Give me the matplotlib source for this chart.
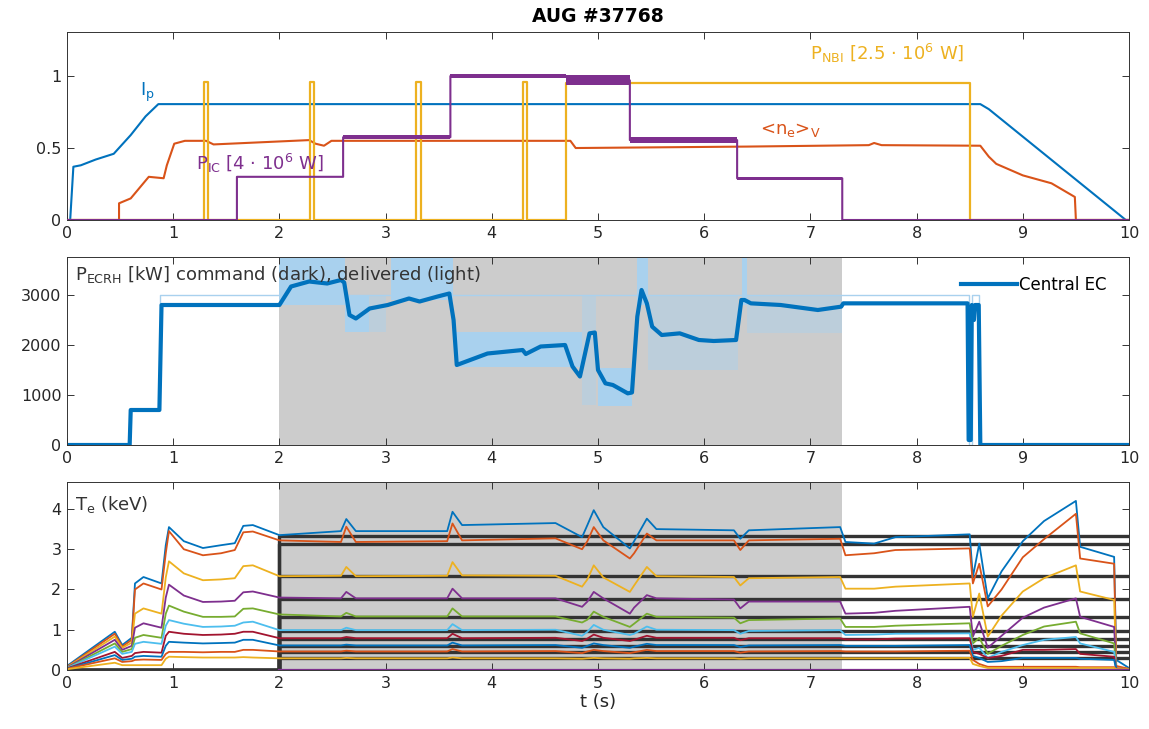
import matplotlib
matplotlib.use('Agg')
import matplotlib.pyplot as plt

# MATLAB default line colours
C_BLUE = '#0072BD'
C_ORANGE = '#D95319'
C_YELLOW = '#EDB120'
C_PURPLE = '#7E2F8E'
C_GREEN = '#77AC30'
C_LBLUE = '#4DBEEE'
C_RED = '#A2142F'
C_SHADE = '#cccccc'
C_DELIV = '#a9d1ee'
C_TEXT = '#262626'

# ---------------------------------------------------------------- top panel
IP_T = [0, 0.03, 0.06, 0.13, 0.27, 0.44, 0.60, 0.74, 0.86, 8.6, 8.68, 9.97, 10]
IP_V = [0, 0, 0.37, 0.38, 0.42, 0.46, 0.59, 0.72, 0.805, 0.805, 0.77, 0.0, 0.0]

NE_T = [0, 0.49, 0.49, 0.60, 0.77, 0.91, 0.94, 1.01, 1.11, 1.31, 1.38, 2.28,
        2.34, 2.42, 2.49, 4.74, 4.79, 6.4, 7.55, 7.6, 7.67, 8.6, 8.68, 8.75,
        9.0, 9.27, 9.49, 9.5, 10]
NE_V = [0, 0, 0.116, 0.15, 0.30, 0.29, 0.38, 0.53, 0.55, 0.55, 0.525, 0.555,
        0.53, 0.516, 0.55, 0.55, 0.50, 0.51, 0.52, 0.535, 0.52, 0.516, 0.44,
        0.39, 0.31, 0.255, 0.16, 0, 0]

IC_T = [0, 1.6, 1.6, 2.6, 2.6, 3.61, 3.61, 4.7, 5.3, 5.3, 6.31, 6.31, 7.3,
        7.3, 10]
IC_V = [0, 0, 0.30, 0.30, 0.575, 0.575, 1.0, 1.0, 0.97, 0.555, 0.555, 0.29,
        0.29, 0, 0]
# noisy plateaus of the ICRF trace: start, end, low, high
IC_BAND_T0 = [2.6, 3.61, 4.7, 5.3, 6.31]
IC_BAND_T1 = [3.61, 4.7, 5.3, 6.31, 7.3]
IC_BAND_LO = [0.565, 0.985, 0.935, 0.535, 0.28]
IC_BAND_HI = [0.59, 1.015, 1.005, 0.575, 0.30]

NBI_T = [0, 1.29, 1.29, 1.33, 1.33, 2.29, 2.29, 2.33, 2.33, 3.29, 3.29, 3.33,
         3.33, 4.29, 4.29, 4.33, 4.33, 4.70, 4.70, 8.50, 8.50, 10]
NBI_V = [0, 0, 0.96, 0.96, 0, 0, 0.96, 0.96, 0, 0, 0.96, 0.96,
         0, 0, 0.96, 0.96, 0, 0, 0.955, 0.955, 0, 0]

# ---------------------------------------------------------------- ECRH panel
ECRH_T = [0, 0.59, 0.60, 0.87, 0.89, 2.0, 2.11, 2.28, 2.45, 2.58, 2.61, 2.66,
          2.72, 2.85, 3.02, 3.22, 3.32, 3.49, 3.60, 3.64, 3.67, 3.96, 4.29,
          4.32, 4.46, 4.69, 4.76, 4.83, 4.92, 4.97, 5.0, 5.07, 5.14, 5.28,
          5.32, 5.37, 5.41, 5.46, 5.51, 5.6, 5.77, 5.95, 6.09, 6.3, 6.35,
          6.38, 6.44, 6.72, 7.07, 7.29, 7.31, 8.48, 8.49, 8.51, 8.52, 8.54,
          8.55, 8.585, 8.6, 10]
ECRH_V = [0, 0, 700, 700, 2800, 2800, 3170, 3270, 3230, 3300, 3250, 2600,
          2530, 2730, 2800, 2930, 2870, 2970, 3030, 2500, 1600, 1830, 1900,
          1820, 1970, 2000, 1570, 1370, 2233, 2250, 1500, 1233, 1200, 1033,
          1050, 2567, 3100, 2833, 2367, 2200, 2233, 2100, 2080, 2100, 2900,
          2900, 2833, 2800, 2700, 2767, 2833, 2833, 100, 100, 2800, 2500,
          2800, 2800, 0, 0]

# delivered power envelope (thin) and its noisy ranges
DLV_T = [0.88, 0.88, 8.49, 8.49, 8.52, 8.52, 8.59, 8.59]
DLV_V = [2800, 3000, 3000, 0, 0, 3000, 3000, 0]
DLV_DENSE_T0 = [2.0, 2.62, 3.05, 3.65, 5.0, 5.37, 6.36]
DLV_DENSE_T1 = [2.62, 2.84, 3.63, 4.85, 5.32, 5.47, 6.40]
DLV_DENSE_LO = [2800, 2270, 2900, 1550, 770, 2800, 2800]
DLV_DENSE_HI = [3760, 3000, 3760, 2270, 1530, 3760, 3760]
DLV_SPARSE_T0 = [2.84, 4.85, 5.47, 6.40]
DLV_SPARSE_T1 = [3.0, 4.98, 6.32, 7.30]
DLV_SPARSE_LO = [2270, 800, 1500, 2250]
DLV_SPARSE_HI = [3000, 3000, 3000, 3000]

SHADE_T = [2.0, 7.3]

# ---------------------------------------------------------------- Te panel
TE_T = [0.0, 0.45, 0.52, 0.61, 0.64, 0.72, 0.89, 0.93, 0.96, 1.10, 1.28, 1.45,
        1.58, 1.66, 1.75, 2.0, 2.58, 2.63, 2.72, 3.58, 3.63, 3.72, 4.6, 4.85,
        4.9, 4.96, 5.05, 5.3, 5.34, 5.46, 5.55, 6.28, 6.34, 6.42, 7.28, 7.33,
        7.6, 7.8, 8.5, 8.53, 8.59, 8.67, 8.8, 9.0, 9.2, 9.5, 9.54, 9.86,
        9.88, 10.0]
TE_1 = [0.1, 0.95, 0.62, 0.8, 2.15, 2.31, 2.15, 3.1, 3.55, 3.2, 3.03, 3.1,
        3.15, 3.58, 3.6, 3.35, 3.45, 3.75, 3.45, 3.45, 3.93, 3.6, 3.65, 3.3,
        3.6, 3.97, 3.55, 3.02, 3.2, 3.76, 3.5, 3.47, 3.26, 3.47, 3.55, 3.18,
        3.14, 3.3, 3.37, 2.31, 3.14, 1.78, 2.45, 3.2, 3.7, 4.2, 3.06, 2.81,
        0.25, 0.05]
TE_2 = [0.08, 0.9, 0.58, 0.75, 2.0, 2.15, 2.0, 2.9, 3.45, 3.0, 2.85, 2.9,
        2.98, 3.42, 3.44, 3.22, 3.18, 3.56, 3.18, 3.2, 3.64, 3.22, 3.27, 3.0,
        3.2, 3.55, 3.22, 2.77, 2.9, 3.39, 3.22, 3.22, 2.98, 3.22, 3.26, 2.85,
        2.9, 2.98, 3.02, 2.15, 2.64, 1.58, 2.0, 2.8, 3.25, 3.88, 2.77, 2.64,
        0.1, 0.03]
TE_3 = [0.07, 0.83, 0.55, 0.68, 1.4, 1.53, 1.4, 2.3, 2.7, 2.4, 2.23, 2.25,
        2.28, 2.58, 2.6, 2.33, 2.34, 2.56, 2.33, 2.34, 2.68, 2.35, 2.34, 2.07,
        2.25, 2.6, 2.3, 1.94, 2.1, 2.56, 2.33, 2.31, 2.1, 2.28, 2.31, 2.02,
        2.02, 2.07, 2.15, 1.32, 1.9, 0.83, 1.35, 1.95, 2.28, 2.6, 1.95, 1.74,
        0.05, 0.02]
TE_4 = [0.06, 0.75, 0.5, 0.6, 1.05, 1.16, 1.05, 1.8, 2.12, 1.85, 1.69, 1.7,
        1.72, 1.93, 1.95, 1.8, 1.78, 1.94, 1.78, 1.78, 2.02, 1.78, 1.78, 1.57,
        1.7, 1.94, 1.78, 1.4, 1.55, 1.86, 1.78, 1.75, 1.53, 1.7, 1.7, 1.4,
        1.42, 1.47, 1.57, 0.83, 1.2, 0.55, 0.85, 1.3, 1.55, 1.78, 1.32, 1.07,
        0.04, 0.02]
TE_5 = [0.05, 0.66, 0.45, 0.52, 0.8, 0.87, 0.8, 1.4, 1.6, 1.45, 1.32, 1.32,
        1.33, 1.52, 1.53, 1.38, 1.33, 1.42, 1.33, 1.33, 1.53, 1.33, 1.33, 1.18,
        1.25, 1.45, 1.32, 1.07, 1.15, 1.4, 1.32, 1.3, 1.16, 1.24, 1.28, 1.07,
        1.07, 1.1, 1.16, 0.66, 0.8, 0.4, 0.6, 0.87, 1.08, 1.2, 0.91, 0.66,
        0.03, 0.02]
TE_6 = [0.05, 0.58, 0.4, 0.45, 0.65, 0.7, 0.65, 1.1, 1.24, 1.15, 1.07, 1.08,
        1.1, 1.18, 1.2, 0.99, 0.99, 1.05, 0.99, 0.99, 1.14, 0.99, 1.0, 0.85,
        0.95, 1.12, 1.0, 0.87, 0.9, 1.08, 1.0, 0.99, 0.9, 0.97, 0.99, 0.87,
        0.88, 0.9, 0.91, 0.5, 0.55, 0.3, 0.45, 0.62, 0.75, 0.82, 0.66, 0.45,
        0.02, 0.02]
TE_7 = [0.04, 0.45, 0.3, 0.35, 0.42, 0.45, 0.43, 0.85, 0.95, 0.9, 0.87, 0.88,
        0.9, 0.95, 0.95, 0.79, 0.79, 0.82, 0.79, 0.79, 0.9, 0.79, 0.8, 0.72,
        0.78, 0.88, 0.8, 0.72, 0.75, 0.85, 0.8, 0.8, 0.74, 0.79, 0.79, 0.76,
        0.76, 0.78, 0.79, 0.45, 0.4, 0.3, 0.35, 0.5, 0.5, 0.52, 0.4, 0.33,
        0.02, 0.02]
TE_8 = [0.03, 0.37, 0.25, 0.28, 0.33, 0.35, 0.33, 0.6, 0.7, 0.68, 0.66, 0.67,
        0.68, 0.75, 0.75, 0.61, 0.61, 0.63, 0.61, 0.61, 0.68, 0.61, 0.62, 0.55,
        0.6, 0.66, 0.62, 0.55, 0.58, 0.65, 0.62, 0.62, 0.57, 0.61, 0.62, 0.6,
        0.6, 0.6, 0.62, 0.35, 0.3, 0.2, 0.22, 0.3, 0.3, 0.3, 0.28, 0.25,
        0.02, 0.02]
TE_9 = [0.03, 0.29, 0.2, 0.22, 0.25, 0.26, 0.25, 0.4, 0.45, 0.45, 0.44, 0.45,
        0.45, 0.5, 0.5, 0.46, 0.46, 0.48, 0.46, 0.46, 0.52, 0.46, 0.47, 0.42,
        0.46, 0.5, 0.47, 0.42, 0.44, 0.5, 0.47, 0.47, 0.43, 0.46, 0.47, 0.46,
        0.46, 0.46, 0.48, 0.25, 0.15, 0.08, 0.08, 0.08, 0.08, 0.08, 0.07, 0.07,
        0.02, 0.02]
TE_10 = [0.02, 0.18, 0.12, 0.12, 0.12, 0.12, 0.12, 0.28, 0.33, 0.32, 0.31,
         0.31, 0.31, 0.32, 0.31, 0.29, 0.29, 0.3, 0.29, 0.29, 0.31, 0.29, 0.29,
         0.28, 0.29, 0.3, 0.29, 0.28, 0.29, 0.3, 0.29, 0.29, 0.28, 0.29, 0.29,
         0.29, 0.29, 0.29, 0.3, 0.15, 0.1, 0.05, 0.05, 0.05, 0.05, 0.05, 0.05,
         0.05, 0.02, 0.02]
TE_CHANNELS = [TE_1, TE_2, TE_3, TE_4, TE_5, TE_6, TE_7, TE_8, TE_9, TE_10]
TE_COLORS = [C_BLUE, C_ORANGE, C_YELLOW, C_PURPLE, C_GREEN, C_LBLUE, C_RED,
             C_BLUE, C_ORANGE, C_YELLOW]

# reference levels (black) switched on at t = 2 s
TE_REF_T = [0, 2.0, 2.0, 10]
TE_REF_LEVELS = [3.33, 3.12, 2.33, 1.77, 1.31, 0.98, 0.78, 0.60, 0.45, 0.30]
TE_ZERO_T = [2.0, 10]
TE_ZERO_V = [0, 0]


def style_axes(ax, ylim, yticks):
    ax.set_xlim(0, 10)
    ax.set_ylim(*ylim)
    ax.set_xticks(range(0, 11))
    ax.set_yticks(yticks)
    ax.set_yticklabels([('%g' % v) for v in yticks])
    ax.tick_params(direction='in', top=True, right=True, length=5, width=0.7,
                   labelsize=11.5, colors='#333333', labelcolor=C_TEXT, pad=4)
    for sp in ax.spines.values():
        sp.set_color('#333333')
        sp.set_linewidth(0.7)


fig = plt.figure(figsize=(11.49, 7.29), dpi=100)
left, width, height = 67 / 1149, 1062 / 1149, 188 / 729
ax1 = fig.add_axes([left, 1 - 220 / 729, width, height])
ax2 = fig.add_axes([left, 1 - 445 / 729, width, height])
ax3 = fig.add_axes([left, 1 - 670 / 729, width, height])

# --- top
ax1.plot(IP_T, IP_V, color=C_BLUE, lw=1.5)
ax1.plot(NE_T, NE_V, color=C_ORANGE, lw=1.5)
ax1.plot(NBI_T, NBI_V, color=C_YELLOW, lw=1.6)
for t0, t1, lo, hi in zip(IC_BAND_T0, IC_BAND_T1, IC_BAND_LO, IC_BAND_HI):
    ax1.fill_between([t0, t1], lo, hi, color=C_PURPLE, lw=0, zorder=2.5)
ax1.plot(IC_T, IC_V, color=C_PURPLE, lw=1.5, zorder=2.6)
style_axes(ax1, (0, 1.306), [0, 0.5, 1])

ax1.text(0.69, 0.86, r'I$_{\rm p}$', color=C_BLUE, fontsize=13)
ax1.text(1.21, 0.35, r'P$_{\rm IC}$ [4 $\cdot$ 10$^{6}$ W]', color=C_PURPLE,
         fontsize=13)
ax1.text(6.53, 0.6, r'<n$_{\rm e}$>$_{\rm V}$', color=C_ORANGE, fontsize=13)
ax1.text(7.0, 1.11, r'P$_{\rm NBI}$ [2.5 $\cdot$ 10$^{6}$ W]', color=C_YELLOW,
         fontsize=13)
fig.text(598 / 1149, 1 - 16 / 729, 'AUG #37768', ha='center', va='center',
         fontsize=13.5, fontweight='bold', color='black')

# --- ECRH
ax2.axvspan(SHADE_T[0], SHADE_T[1], color=C_SHADE, lw=0)
for t0, t1, lo, hi in zip(DLV_DENSE_T0, DLV_DENSE_T1, DLV_DENSE_LO, DLV_DENSE_HI):
    ax2.fill_between([t0, t1], lo, hi, color=C_DELIV, lw=0)
for t0, t1, lo, hi in zip(DLV_SPARSE_T0, DLV_SPARSE_T1, DLV_SPARSE_LO, DLV_SPARSE_HI):
    ax2.fill_between([t0, t1], lo, hi, color=C_DELIV, alpha=0.45, lw=0)
ax2.plot(DLV_T, DLV_V, color=C_DELIV, lw=1)
ax2.plot(ECRH_T, ECRH_V, color=C_BLUE, lw=3, label='Central EC')
style_axes(ax2, (0, 3760), [0, 1000, 2000, 3000])
ax2.text(0.08, 3290, r'P$_{\rm ECRH}$ [kW] command (dark), delivered (light)',
         color='#333333', fontsize=13)
ax2.legend(loc='upper right', bbox_to_anchor=(0.985, 0.935), frameon=False,
           fontsize=12, handlelength=3.4, handletextpad=0.1, borderaxespad=0)

# --- Te
ax3.axvspan(SHADE_T[0], SHADE_T[1], color=C_SHADE, lw=0)
for lev in TE_REF_LEVELS:
    ax3.plot(TE_REF_T, [0, 0, lev, lev], color='#333333', lw=2.4)
for vals, col in zip(TE_CHANNELS, TE_COLORS):
    ax3.plot(TE_T, vals, color=col, lw=1.3)
ax3.plot(TE_ZERO_T, TE_ZERO_V, color=C_PURPLE, lw=1.6)
style_axes(ax3, (0, 4.67), [0, 1, 2, 3, 4])
ax3.text(0.08, 3.98, r'T$_{\rm e}$ (keV)', color='#333333', fontsize=13)
ax3.set_xlabel('t (s)', fontsize=13, color=C_TEXT, labelpad=2)

fig.savefig('out.png', dpi=100)
